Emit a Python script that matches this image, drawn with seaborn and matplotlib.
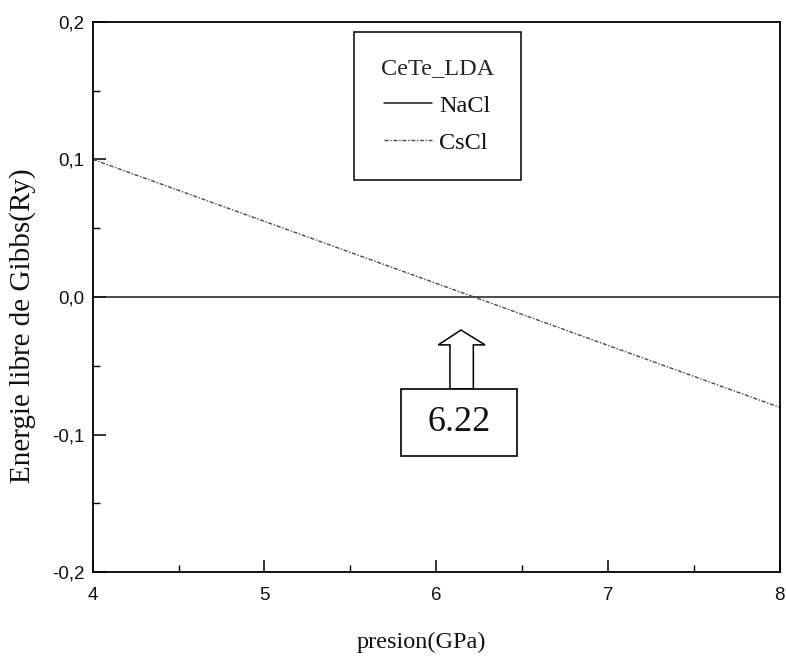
import matplotlib
matplotlib.use("Agg")
import matplotlib.pyplot as plt
from matplotlib.patches import Rectangle, Polygon
from matplotlib.ticker import MultipleLocator, FixedLocator
import seaborn as sns
import pandas as pd

# Gibbs free energy vs pressure for the two CeTe phases (LDA)
pressure = [4.0, 8.0]
g_nacl = [0.0, 0.0]
g_cscl = [0.1, -0.0802]
transition_label = "6.22"

x_ticks = [4, 5, 6, 7, 8]
x_tick_labels = ["4", "5", "6", "7", "8"]
y_ticks = [-0.2, -0.1, 0.0, 0.1, 0.2]
y_tick_labels = ["-0,2", "-0,1", "0,0", "0,1", "0,2"]

sns.set_theme(style="white")
plt.rcParams["font.family"] = ["Liberation Serif", "DejaVu Serif"]

fig = plt.figure(figsize=(7.86, 6.6), dpi=100)
ax = fig.add_axes([0.118, 0.133, 0.874, 0.834])

df_nacl = pd.DataFrame({"p": pressure, "g": g_nacl})
df_cscl = pd.DataFrame({"p": pressure, "g": g_cscl})
sns.lineplot(data=df_nacl, x="p", y="g", ax=ax, color="#1a1a1a",
             linewidth=1.1, label="NaCl")
sns.lineplot(data=df_cscl, x="p", y="g", ax=ax, color="#4a4a4a",
             linewidth=1.0, linestyle=(0, (3, 1.2, 1, 1.2)), label="CsCl")

ax.set_xlim(4, 8)
ax.set_ylim(-0.2, 0.2)
ax.xaxis.set_major_locator(FixedLocator(x_ticks))
ax.set_xticklabels(x_tick_labels)
ax.yaxis.set_major_locator(FixedLocator(y_ticks))
ax.set_yticklabels(y_tick_labels)
ax.xaxis.set_minor_locator(MultipleLocator(0.5))
ax.yaxis.set_minor_locator(MultipleLocator(0.05))
ax.tick_params(which="major", direction="in", length=9, width=1.1,
               color="black", bottom=True, left=True, top=False, right=False,
               labelsize=13.5)
ax.tick_params(axis="x", which="major", pad=11)
ax.tick_params(axis="y", which="major", pad=6)
ax.tick_params(which="minor", direction="in", length=5, width=1.0,
               color="black", bottom=True, left=True, top=False, right=False)
for lab in ax.get_xticklabels() + ax.get_yticklabels():
    lab.set_fontfamily("Liberation Sans")
    lab.set_color("#111111")

for s in ax.spines.values():
    s.set_color("black")
    s.set_linewidth(1.3)

ax.set_xlabel("presion(GPa)", fontsize=17.5, color="#111111")
ax.xaxis.set_label_coords(0.478, -0.108)
ax.set_ylabel("Energie libre de Gibbs(Ry)", fontsize=21, color="#111111")
ax.yaxis.set_label_coords(-0.082, 0.447)

leg = ax.legend(title="CeTe_LDA", loc="upper left",
                bbox_to_anchor=(0.38, 0.982), fontsize=17.5,
                title_fontsize=17.5, frameon=True, fancybox=False,
                handlelength=2.0, handletextpad=0.3, borderpad=1.1,
                labelspacing=0.62, borderaxespad=0)
leg.get_frame().set_edgecolor("black")
leg.get_frame().set_linewidth(1.1)
leg.get_frame().set_facecolor("white")
leg.get_frame().set_alpha(1)
for t in leg.get_texts():
    t.set_color("#111111")

# hollow arrow pointing to the crossing, with the boxed value below it
arrow = Polygon([(0.520, 0.333), (0.520, 0.413), (0.503, 0.413),
                 (0.536, 0.440), (0.571, 0.413), (0.554, 0.413),
                 (0.554, 0.333)], closed=True, transform=ax.transAxes,
                facecolor="white", edgecolor="black", linewidth=1.1)
ax.add_patch(arrow)
box = Rectangle((0.449, 0.211), 0.168, 0.122, transform=ax.transAxes,
                facecolor="white", edgecolor="black", linewidth=1.2)
ax.add_patch(box)
ax.text(0.533, 0.272, transition_label, transform=ax.transAxes,
        ha="center", va="center", fontsize=26, color="#111111")

fig.savefig("out.png", dpi=100, facecolor="white")
